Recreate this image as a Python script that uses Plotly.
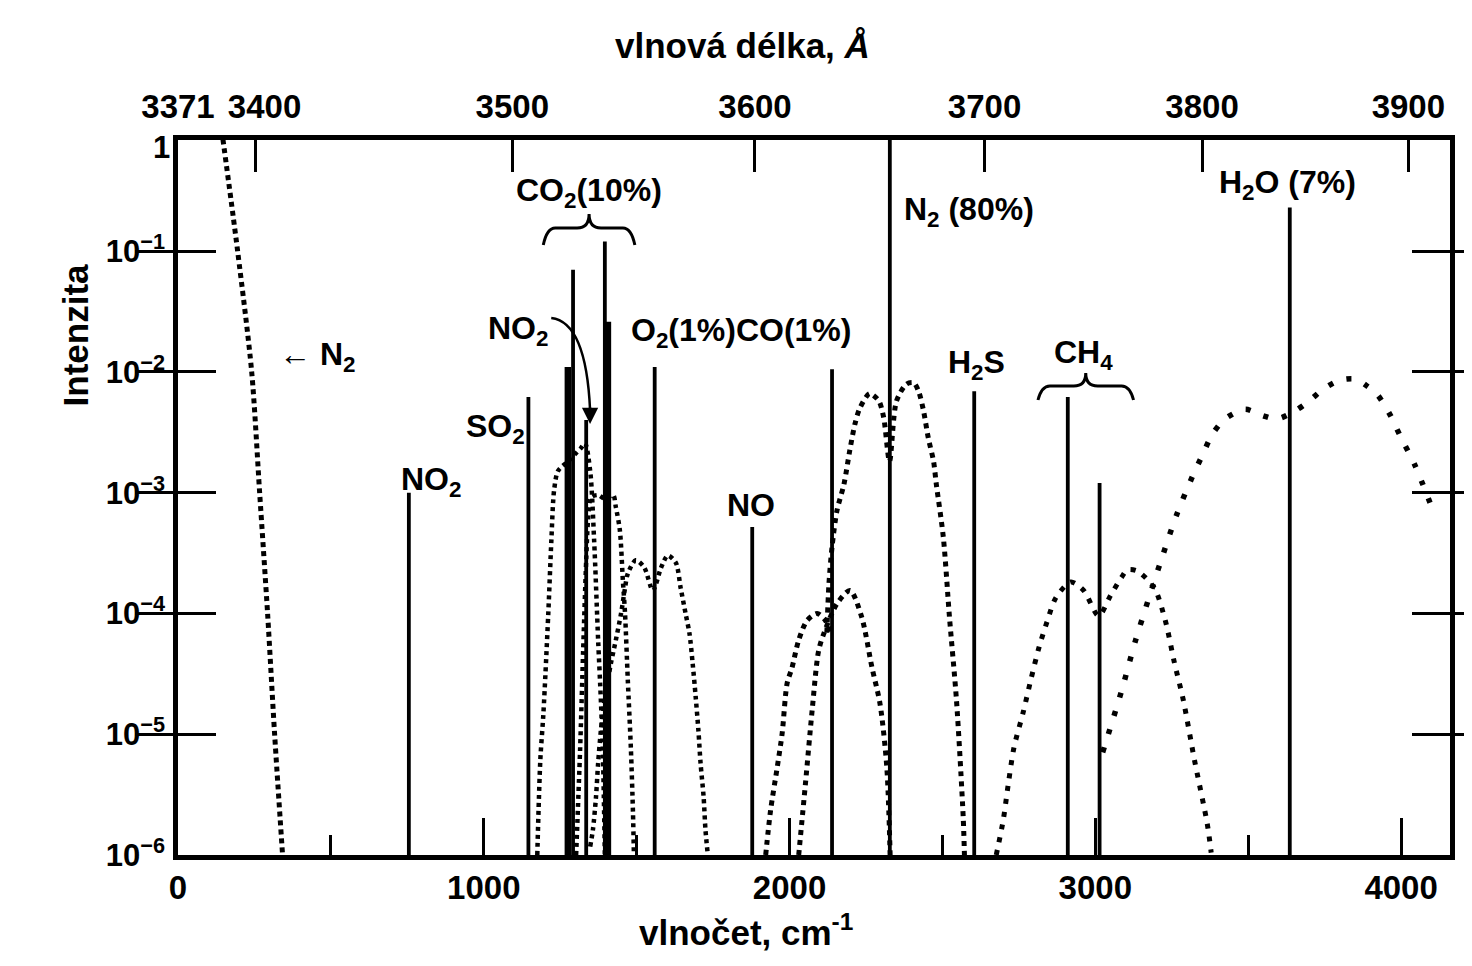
import numpy as np
import plotly.graph_objects as go

# ---------------- data ----------------
LASER_WAVELENGTH_A = 3371.0          # excitation wavelength (Angstrom)
X_MAX = 4160                          # right end of wavenumber axis (cm-1)

# Raman lines (solid): wavenumber shift, relative intensity
line_species = ["NO2", "SO2", "CO2", "CO2", "NO2", "CO2", "CO2", "O2", "NO", "CO", "N2", "H2S", "CH4", "CH4", "H2O"]
line_nu      = [755, 1146, 1275, 1292, 1335, 1396, 1406, 1559, 1878, 2139, 2328, 2604, 2910, 3014, 3636]
line_int     = [1.0e-3, 6.2e-3, 1.1e-2, 7.0e-2, 4.0e-3, 0.12, 2.6e-2, 1.1e-2, 5.2e-4, 1.05e-2, 1.0, 6.9e-3, 6.2e-3, 1.2e-3, 0.23]
line_thick   = [False, False, True, False, False, False, True, False, False, False, False, False, False, False, False]

# dotted envelopes: wavenumber and log10(intensity)
n2_wing_nu  = [143, 195, 241, 267, 293, 316, 342]
n2_wing_exp = [0.0, -1.0, -2.0, -3.0, -4.0, -5.0, -6.0]

co2a_nu  = [1175, 1185, 1195, 1211, 1221, 1230, 1243, 1276, 1299, 1318, 1331, 1348, 1361, 1374, 1383, 1390, 1396]
co2a_exp = [-6.0, -5.21, -4.83, -4.0, -3.40, -2.98, -2.82, -2.74, -2.68, -2.63, -2.59, -2.82, -3.40, -4.22, -4.72, -5.21, -6.0]

co2b_nu  = [1302, 1315, 1325, 1335, 1341, 1351, 1374, 1396, 1423, 1432, 1445, 1455, 1462, 1471, 1481, 1488, 1491]
co2b_exp = [-6.0, -5.13, -4.31, -3.56, -3.23, -3.04, -3.02, -3.05, -3.02, -3.12, -3.31, -3.73, -4.0, -4.55, -5.11, -5.65, -6.0]

o2_nu  = [1348, 1357, 1367, 1374, 1383, 1396, 1406, 1416, 1432, 1449, 1462, 1471, 1497, 1525, 1553, 1580, 1602, 1628, 1644, 1660, 1673, 1683, 1693, 1702, 1709, 1719, 1725, 1732]
o2_exp = [-5.93, -5.79, -5.52, -5.24, -4.97, -4.69, -4.55, -4.41, -4.22, -4.0, -3.79, -3.67, -3.56, -3.62, -3.81, -3.62, -3.52, -3.58, -3.79, -4.0, -4.17, -4.41, -4.69, -4.97, -5.24, -5.52, -5.79, -5.98]

coa_nu  = [1922, 1938, 1960, 1976, 1992, 2008, 2030, 2057, 2090, 2118, 2133]
coa_exp = [-6.0, -5.63, -5.27, -4.99, -4.58, -4.45, -4.22, -4.06, -4.0, -4.06, -4.16]

cob_nu  = [2030, 2052, 2074, 2095, 2113, 2155, 2198, 2236, 2269, 2296, 2318, 2329]
cob_exp = [-6.0, -5.41, -4.80, -4.31, -4.16, -3.92, -3.81, -4.03, -4.44, -4.75, -5.27, -6.0]

n2_nu  = [2122, 2129, 2139, 2155, 2178, 2197, 2214, 2230, 2262, 2292, 2308, 2327, 2350, 2383, 2406, 2422, 2438, 2454, 2471, 2480, 2503, 2523, 2546, 2568, 2572]
n2_exp = [-4.16, -3.75, -3.45, -3.15, -2.93, -2.65, -2.43, -2.30, -2.18, -2.24, -2.38, -2.74, -2.24, -2.10, -2.09, -2.16, -2.32, -2.55, -2.74, -2.93, -3.37, -4.03, -4.72, -5.69, -6.0]

ch4_nu  = [2676, 2699, 2715, 2734, 2764, 2790, 2816, 2842, 2871, 2920, 2962, 3011, 3050, 3086, 3105, 3138, 3193, 3229, 3258, 3288, 3324, 3366, 3379]
ch4_exp = [-6.0, -5.71, -5.42, -5.11, -4.82, -4.54, -4.28, -4.07, -3.87, -3.74, -3.81, -4.02, -3.85, -3.70, -3.64, -3.65, -3.79, -4.06, -4.40, -4.72, -5.21, -5.74, -5.98]

h2o_nu  = [3024, 3086, 3132, 3223, 3268, 3317, 3350, 3382, 3424, 3490, 3545, 3594, 3649, 3695, 3747, 3799, 3851, 3890, 3923, 3965, 3997, 4043, 4108]
h2o_exp = [-5.15, -4.64, -4.22, -3.50, -3.17, -2.87, -2.69, -2.52, -2.39, -2.31, -2.36, -2.39, -2.33, -2.25, -2.14, -2.07, -2.06, -2.12, -2.19, -2.36, -2.53, -2.76, -3.17]

# axis ticks
wavelength_ticks = [3371, 3400, 3500, 3600, 3700, 3800, 3900]
wavelength_text  = ["3371", "\u00a0\u00a03400", "3500", "3600", "3700", "3800", "3900"]
y_tick_exps = [-6, -5, -4, -3, -2, -1]

# ---------------- figure ----------------
FONT = "Liberation Sans, Arial, Helvetica, sans-serif"
fig = go.Figure()

# solid Raman lines
for nu, inten, thick in zip(line_nu, line_int, line_thick):
    fig.add_trace(go.Scatter(
        x=[nu, nu], y=[1e-6, inten], mode="lines",
        line=dict(color="black", width=6.5 if thick else 3.8),
        showlegend=False, hoverinfo="skip"))

def dotted(nu, exps, dash="4px,5px", width=4.5):
    fig.add_trace(go.Scatter(
        x=nu, y=[10.0 ** e for e in exps], mode="lines",
        line=dict(color="black", width=width, dash=dash, shape="spline", smoothing=0.8),
        showlegend=False, hoverinfo="skip"))

dotted(n2_wing_nu, n2_wing_exp, dash="5px,4px", width=5)
dotted(co2a_nu, co2a_exp, dash="4px,4px", width=4.5)
dotted(co2b_nu, co2b_exp, dash="4px,4px", width=4.5)
dotted(o2_nu, o2_exp, dash="4px,4px", width=4.5)
dotted(coa_nu, coa_exp, dash="5px,5px", width=5)
dotted(cob_nu, cob_exp, dash="5px,5px", width=5)
dotted(n2_nu, n2_exp, dash="5px,5px", width=5)
dotted(ch4_nu, ch4_exp, dash="5px,8px", width=5)
dotted(h2o_nu, h2o_exp, dash="5px,14px", width=5.5)

# top axis positions: wavenumber shift corresponding to each wavelength
top_tickvals = [1e8 / LASER_WAVELENGTH_A - 1e8 / w for w in wavelength_ticks]
fig.add_trace(go.Scatter(x=top_tickvals, y=[1e-6] * len(top_tickvals), xaxis="x2",
                         mode="markers", marker=dict(opacity=0), showlegend=False,
                         hoverinfo="skip"))

tickfont = dict(family=FONT, size=33, color="black", weight="bold")
ytickfont = dict(family=FONT, size=31, color="black", weight="bold")

# page body has an 8px margin: size the figure so the plot area lands where the reference has it
fig.update_layout(
    width=1456, height=950,
    margin=dict(l=170, r=9, t=132, b=103),
    paper_bgcolor="white", plot_bgcolor="white",
    font=dict(family=FONT, color="black", weight="bold"),
    showlegend=False,
    xaxis=dict(range=[0, X_MAX], tickvals=[0, 1000, 2000, 3000, 4000], tickangle=0,
               ticks="inside", ticklen=37, tickwidth=3, tickcolor="black",
               showline=True, linewidth=4.5, linecolor="black", mirror=False,
               showgrid=False, zeroline=False, tickfont=tickfont,
               ticklabelstandoff=0,
               minor=dict(tickvals=[500, 1500, 2500, 3500], ticks="inside", ticklen=20,
                          tickwidth=3, tickcolor="black", showgrid=False)),
    xaxis2=dict(range=[0, X_MAX], overlaying="x", side="top", anchor="y",
                tickvals=top_tickvals, ticktext=wavelength_text, tickangle=0,
                ticks="inside", ticklen=32, tickwidth=3, tickcolor="black",
                showline=True, linewidth=4.5, linecolor="black",
                showgrid=False, zeroline=False, tickfont=tickfont,
                ticklabelstandoff=4),
    yaxis=dict(type="log", range=[-6.0, -0.08],
               tickvals=[10.0 ** e for e in y_tick_exps],
               ticktext=["10<sup>−%d</sup>" % (-e) for e in y_tick_exps],
               ticks="inside", ticklen=38, tickwidth=3, tickcolor="black",
               showline=True, linewidth=4.5, linecolor="black", mirror="allticks",
               showgrid=False, zeroline=False, tickfont=ytickfont,
               ticklabelstandoff=2),
)

def ypix(py):
    """convert reference pixel row to paper fraction of plot area"""
    return (855 - py) / 715.0

def xnu(px):
    return (px - 178) / 0.3072

LABEL_SIZE = 32
ann = []
def label(text, nu, py, size=LABEL_SIZE, xanchor="center"):
    ann.append(dict(text=text, x=nu, y=ypix(py), xref="x", yref="paper",
                    showarrow=False, xanchor=xanchor, yanchor="middle",
                    font=dict(family=FONT, size=size, color="black", weight="bold")))

label("CO<sub>2</sub>(10%)", xnu(591), 192)
label("NO<sub>2</sub>", xnu(520), 330)
label("O<sub>2</sub>(1%)CO(1%)", xnu(744), 332)
label("← N<sub>2</sub>", xnu(318), 356)
label("SO<sub>2</sub>", xnu(497), 429)
label("NO<sub>2</sub>", xnu(432), 482)
label("NO", xnu(754), 505)
label("N<sub>2</sub> (80%)", xnu(973), 211)
label("H<sub>2</sub>S", xnu(980), 364)
label("CH<sub>4</sub>", xnu(1088), 354)
label("H<sub>2</sub>O (7%)", xnu(1293), 184)

# "1" label at top of intensity axis
ann.append(dict(text="1", x=-0.005, y=ypix(147), xref="paper", yref="paper", showarrow=False,
                xanchor="right", yanchor="middle", font=ytickfont))

TITLE_FONT = dict(family=FONT, size=35, color="black", weight="bold")
# axis titles
ann.append(dict(text="vlnová délka, <i>Å</i>", x=(745 - 178) / 1277, y=ypix(46), xref="paper", yref="paper",
                showarrow=False, xanchor="center", yanchor="middle", font=TITLE_FONT))
ann.append(dict(text="vlnočet, cm<sup>-1</sup>", x=(748 - 178) / 1277, y=ypix(930), xref="paper", yref="paper",
                showarrow=False, xanchor="center", yanchor="middle", font=TITLE_FONT))
ann.append(dict(text="Intenzita", x=(75 - 178) / 1277, y=ypix(335), xref="paper", yref="paper",
                showarrow=False, xanchor="center", yanchor="middle", textangle=-90, font=TITLE_FONT))

# arrowhead for the NO2 curved arrow (points to the 1320 cm-1 NO2 line)
ann.append(dict(text="", x=xnu(592), y=ypix(424), xref="x", yref="paper",
                showarrow=True, arrowhead=2, arrowsize=1.3, arrowwidth=2.5, arrowcolor="black",
                ax=0, ay=-18))
fig.update_layout(annotations=ann)

# braces and curved arrow stem (decorations)
def brace(px_left, px_right, py_base, py_bar, py_tip):
    xl, xr, xm = xnu(px_left), xnu(px_right), xnu((px_left + px_right) / 2)
    yb, yh, yt = ypix(py_base), ypix(py_bar), ypix(py_tip)
    d = xnu(px_left + 12) - xl
    path = (f"M {xl},{yb} Q {xl + d*0.3},{yh} {xl + d},{yh} L {xm - d},{yh} "
            f"Q {xm},{yh} {xm},{yt} Q {xm},{yh} {xm + d},{yh} L {xr - d},{yh} "
            f"Q {xr - d*0.3},{yh} {xr},{yb}")
    return dict(type="path", path=path, xref="x", yref="paper",
                line=dict(color="black", width=3))

shapes = [brace(545, 637, 245, 228, 214), brace(1042, 1138, 400, 386, 373)]
x0, x1, x2 = xnu(553), xnu(588), xnu(592)
shapes.append(dict(type="path",
                   path=f"M {x0},{ypix(318)} Q {x1},{ypix(322)} {x2},{ypix(410)}",
                   xref="x", yref="paper", line=dict(color="black", width=2.5)))
fig.update_layout(shapes=shapes)

fig.write_html("out.html")
